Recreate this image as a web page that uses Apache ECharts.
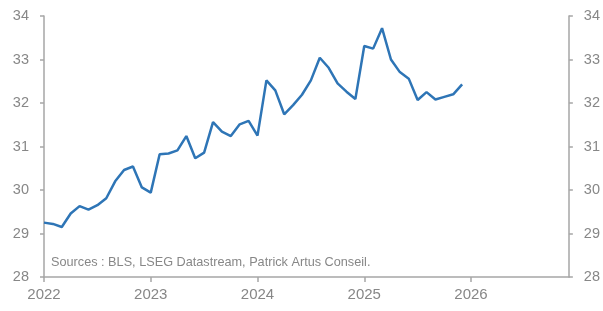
<!DOCTYPE html>
<html>
<head>
<meta charset="utf-8">
<script src="https://cdn.jsdelivr.net/npm/echarts@6/dist/echarts.min.js"></script>
<style>
  html, body { margin: 0; padding: 0; background: #fff; }
  #chart { width: 603px; height: 311px; }
</style>
</head>
<body>
<div id="chart"></div>
<script>
  // monthly, Jan 2022 -> Dec 2026 (axis), data to Dec 2025
  var years = [2022, 2023, 2024, 2025, 2026];
  var values = [
    29.25, 29.22, 29.15, 29.46, 29.63, 29.55, 29.65, 29.81, 30.20, 30.46, 30.54, 30.06,
    29.94, 30.82, 30.84, 30.91, 31.24, 30.73, 30.86, 31.56, 31.34, 31.24, 31.51, 31.59,
    31.25, 32.52, 32.29, 31.74, 31.95, 32.19, 32.52, 33.04, 32.81, 32.45, 32.26, 32.09,
    33.31, 33.25, 33.72, 33.00, 32.71, 32.56, 32.07, 32.25, 32.08, 32.14, 32.20, 32.43
  ];
  var source = 'Sources : BLS, LSEG Datastream, Patrick Artus Conseil.';

  var months = [];
  years.forEach(function (y) {
    for (var m = 0; m < 12; m++) months.push(m == 0 ? String(y) : y + '-' + (m + 1));
  });

  var grey = '#878787';
  var font = 'Liberation Sans';
  var axisLine = { show: true, lineStyle: { color: '#a6a6a6', width: 1.5 } };

  var yAxisBase = function (pos) {
    return {
      type: 'value',
      position: pos,
      min: 28,
      max: 34,
      interval: 1,
      axisLine: axisLine,
      axisTick: { show: true, length: 4, lineStyle: { color: '#a6a6a6', width: 1.5 } },
      splitLine: { show: false },
      axisLabel: { color: grey, fontFamily: font, fontSize: 14.5, margin: 15 }
    };
  };

  var myChart = echarts.init(document.getElementById('chart'));
  myChart.setOption({
    animation: false,
    grid: { left: 44, right: 32, top: 16, bottom: 34 },
    title: {
      text: source,
      left: 46,
      top: 251,
      textStyle: { color: grey, fontFamily: font, fontSize: 12.7, fontWeight: 'normal' }
    },
    xAxis: {
      type: 'category',
      boundaryGap: false,
      data: months,
      axisLine: axisLine,
      axisTick: {
        show: true, length: 5, interval: function (i) { return i % 12 == 0; },
        lineStyle: { color: '#a6a6a6', width: 1.5 }
      },
      axisLabel: {
        color: grey, fontFamily: font, fontSize: 15, margin: 10,
        interval: function (i) { return i % 12 == 0; }
      },
      splitLine: { show: false }
    },
    yAxis: [yAxisBase('left'), yAxisBase('right')],
    series: [
      {
        type: 'line',
        data: values,
        symbol: 'none',
        lineStyle: { color: '#2e75b6', width: 2.5 }
      }
    ]
  });
</script>
</body>
</html>
